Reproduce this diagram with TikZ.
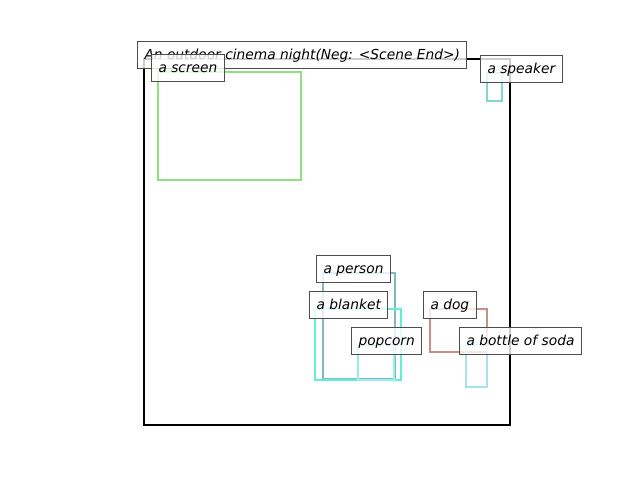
\documentclass[tikz,border=0pt]{standalone}
\usepackage{fontspec}
\setmainfont{DejaVu Sans}
\begin{document}
\begin{tikzpicture}[x=0.72pt,y=-0.72pt,
  lbl/.style={anchor=base west, draw=black!70, line width=0.8pt, fill=white, fill opacity=0.8, text opacity=1,
    inner xsep=5pt, inner ysep=4.7pt, text height=7.6pt, text depth=2.4pt, font=\fontsize{9.92pt}{12pt}\selectfont\itshape},
  bx/.style={line width=1.8pt}]
\useasboundingbox (0,0) rectangle (640,480);
\definecolor{cscreen}{RGB}{144,224,128}
\definecolor{cspeaker}{RGB}{128,216,200}
\definecolor{cperson}{RGB}{128,184,200}
\definecolor{cblanket}{RGB}{96,240,216}
\definecolor{cpopcorn}{RGB}{150,240,240}
\definecolor{cdog}{RGB}{200,144,128}
\definecolor{csoda}{RGB}{168,224,240}
\draw[line width=1.8pt] (144,59) rectangle (510,425);
\draw[bx,cscreen] (158,72) rectangle (301,180);
\draw[bx,cspeaker] (487,73) rectangle (502,101);
\draw[bx,cperson] (323,273) rectangle (395,379);
\draw[bx,cblanket] (315,309) rectangle (401,380);
\draw[bx,cpopcorn] (358,345) rectangle (394,380);
\draw[bx,cdog] (430,309) rectangle (487,352);
\draw[bx,csoda] (466,345) rectangle (487,387);
\node[lbl] (title) at (137,59) {An outdoor cinema night(Neg: <Scene End>)};
\node[lbl] (screen) at (151,72) {a screen};
\node[lbl] (speaker) at (480,73) {a speaker};
\node[lbl] (person) at (316,273) {a person};
\node[lbl] (blanket) at (309,309) {a blanket};
\node[lbl] (dog) at (423,309) {a dog};
\node[lbl] (popcorn) at (351,345) {popcorn};
\node[lbl] (soda) at (459,345) {a bottle of soda};
\end{tikzpicture}
\end{document}
